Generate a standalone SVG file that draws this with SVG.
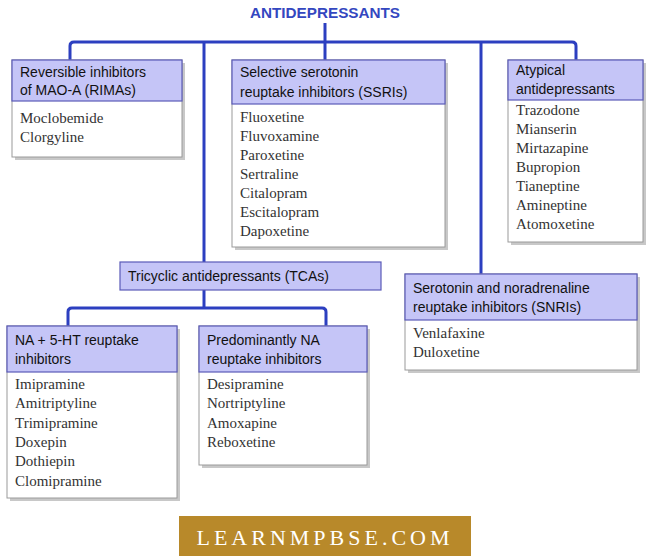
<svg xmlns="http://www.w3.org/2000/svg" width="652" height="560" viewBox="0 0 652 560">
<style>
.sh{fill:#c8c8c8}
.body{fill:#fff;stroke:#9a9a9a;stroke-width:1}
.hd{fill:#c5c5f7;stroke:#5a5ab8;stroke-width:1.2}
.ht{font-family:"Liberation Sans",Arial,sans-serif;font-size:14px;fill:#111}
.it{font-family:"Liberation Serif","Times New Roman",serif;font-size:15px;fill:#333}
.ln{fill:none;stroke:#2c3fc0;stroke-width:3;stroke-linejoin:round}
</style>
<rect width="652" height="560" fill="#fff"/>
<text x="325" y="18" text-anchor="middle" font-family="Liberation Sans,Arial,sans-serif" font-weight="bold" font-size="14" fill="#3447c0" textLength="150" lengthAdjust="spacingAndGlyphs">ANTIDEPRESSANTS</text>
<g id="connectors">
<path class="ln" d="M325 23V42"/>
<path class="ln" d="M70 60V46Q70 42 74 42H572Q576 42 576 46V60"/>
<path class="ln" d="M325 42V60"/>
<path class="ln" d="M204 42V262"/>
<path class="ln" d="M481 42V274"/>
<path class="ln" d="M204 290V308"/>
<path class="ln" d="M68 326V312Q68 308 72 308H322Q326 308 326 312V326"/>
</g>
<g id="rimas">
<rect class="sh" x="15" y="63" width="170" height="97"/>
<rect class="body" x="12" y="60" width="170" height="97"/>
<rect class="hd" x="12" y="60" width="170" height="41"/>
<text class="ht" x="20" y="77">Reversible inhibitors</text>
<text class="ht" x="20" y="95">of MAO-A (RIMAs)</text>
<text class="it" x="20" y="123">Moclobemide</text>
<text class="it" x="20" y="142">Clorgyline</text>
</g>
<g id="ssris">
<rect class="sh" x="235" y="63" width="213" height="187"/>
<rect class="body" x="232" y="60" width="213" height="187"/>
<rect class="hd" x="232" y="60" width="213" height="44"/>
<text class="ht" x="240" y="77">Selective serotonin</text>
<text class="ht" x="240" y="97">reuptake inhibitors (SSRIs)</text>
<text class="it" x="240" y="122">Fluoxetine</text>
<text class="it" x="240" y="141">Fluvoxamine</text>
<text class="it" x="240" y="160">Paroxetine</text>
<text class="it" x="240" y="179">Sertraline</text>
<text class="it" x="240" y="198">Citalopram</text>
<text class="it" x="240" y="217">Escitalopram</text>
<text class="it" x="240" y="236">Dapoxetine</text>
</g>
<g id="atypical">
<rect class="sh" x="511" y="63" width="135" height="182"/>
<rect class="body" x="508" y="60" width="135" height="182"/>
<rect class="hd" x="508" y="60" width="135" height="40"/>
<text class="ht" x="516" y="75">Atypical</text>
<text class="ht" x="516" y="94">antidepressants</text>
<text class="it" x="516" y="115">Trazodone</text>
<text class="it" x="516" y="134">Mianserin</text>
<text class="it" x="516" y="153">Mirtazapine</text>
<text class="it" x="516" y="172">Bupropion</text>
<text class="it" x="516" y="191">Tianeptine</text>
<text class="it" x="516" y="210">Amineptine</text>
<text class="it" x="516" y="229">Atomoxetine</text>
</g>
<g id="tcas">
<rect class="hd" x="120" y="262" width="261" height="28"/>
<text class="ht" x="128" y="281">Tricyclic antidepressants (TCAs)</text>
</g>
<g id="snris">
<rect class="sh" x="408" y="277" width="232" height="96"/>
<rect class="body" x="405" y="274" width="232" height="96"/>
<rect class="hd" x="405" y="274" width="232" height="46"/>
<text class="ht" x="413" y="293">Serotonin and noradrenaline</text>
<text class="ht" x="413" y="312">reuptake inhibitors (SNRIs)</text>
<text class="it" x="413" y="338">Venlafaxine</text>
<text class="it" x="413" y="357">Duloxetine</text>
</g>
<g id="na5ht">
<rect class="sh" x="10" y="329" width="170" height="172"/>
<rect class="body" x="7" y="326" width="170" height="172"/>
<rect class="hd" x="7" y="326" width="170" height="46"/>
<text class="ht" x="15" y="345">NA + 5-HT reuptake</text>
<text class="ht" x="15" y="364">inhibitors</text>
<text class="it" x="15" y="389">Imipramine</text>
<text class="it" x="15" y="408">Amitriptyline</text>
<text class="it" x="15" y="428">Trimipramine</text>
<text class="it" x="15" y="447">Doxepin</text>
<text class="it" x="15" y="466">Dothiepin</text>
<text class="it" x="15" y="486">Clomipramine</text>
</g>
<g id="predna">
<rect class="sh" x="202" y="329" width="168" height="139"/>
<rect class="body" x="199" y="326" width="168" height="139"/>
<rect class="hd" x="199" y="326" width="168" height="46"/>
<text class="ht" x="207" y="345">Predominantly NA</text>
<text class="ht" x="207" y="364">reuptake inhibitors</text>
<text class="it" x="207" y="389">Desipramine</text>
<text class="it" x="207" y="408">Nortriptyline</text>
<text class="it" x="207" y="428">Amoxapine</text>
<text class="it" x="207" y="447">Reboxetine</text>
</g>
<g id="footer">
<rect x="179" y="516" width="292" height="40" fill="#b8892a"/>
<text x="325" y="545" text-anchor="middle" font-family="Liberation Serif,serif" font-size="22" fill="#fff" letter-spacing="4">LEARNMPBSE.COM</text>
</g>
</svg>
